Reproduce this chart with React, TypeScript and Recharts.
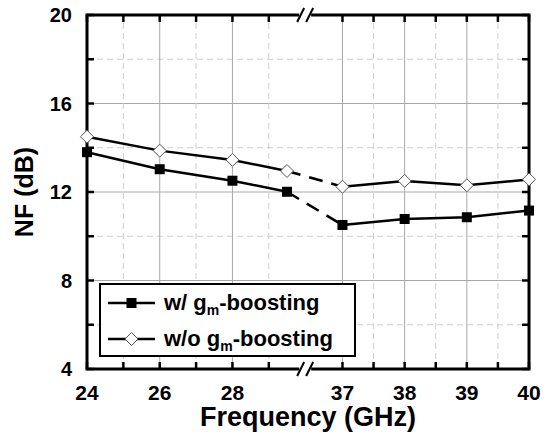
import React from 'react';
import { LineChart, Line, XAxis, YAxis, ReferenceLine } from 'recharts';

// measured noise figure (dB) vs frequency (GHz)
const freqs = [24, 26, 28, 29.5, 37, 38, 39, 40];
const nfWith = [13.8, 13.03, 12.51, 12.01, 10.51, 10.78, 10.86, 11.16];
const nfWithout = [14.5, 13.87, 13.45, 12.95, 12.24, 12.5, 12.3, 12.57];

const majorX = [24, 26, 28, 37, 38, 39, 40];
const minorX = [25, 27, 29, 37.5, 38.5, 39.5];
const majorY = [4, 8, 12, 16, 20];
const minorY = [6, 10, 14, 18];
const Y_MIN = 4;
const Y_MAX = 20;

// broken x axis: 24..30 on the left, 36.4..40 stretched on the right
const BREAK_LO = 30;
const BREAK_HI = 36.4;
const STRETCH = 1.71;
const toPos = (f: number) => (f <= BREAK_LO ? f - 24 : BREAK_LO - 24 + (f - BREAK_HI) * STRETCH);
const breakPos = toPos(BREAK_LO);
const xMax = toPos(40);

const FONT = '"Liberation Sans", Arial, sans-serif';
const CHART_W = 551;
const CHART_H = 435;
const MARGIN = { top: 15, right: 22, bottom: 0, left: 0 };
const Y_AXIS_W = 87;

// split each series into solid part / dashed part across the break
const lastLeft = Math.max(...freqs.filter((f) => f < BREAK_LO));
const firstRight = Math.min(...freqs.filter((f) => f > BREAK_LO));
const rows = freqs.map((f, i) => ({
  pos: toPos(f),
  wL: f <= lastLeft ? nfWith[i] : null,
  wD: f === lastLeft || f === firstRight ? nfWith[i] : null,
  wR: f >= firstRight ? nfWith[i] : null,
  woL: f <= lastLeft ? nfWithout[i] : null,
  woD: f === lastLeft || f === firstRight ? nfWithout[i] : null,
  woR: f >= firstRight ? nfWithout[i] : null,
}));

const xTicks = [...majorX, ...minorX].map(toPos).sort((a, b) => a - b);
const yTicks = [...majorY, ...minorY].sort((a, b) => a - b);

const xLabel = (v: number) => {
  const f = majorX.find((m) => Math.abs(toPos(m) - v) < 1e-6);
  return f === undefined ? '' : String(f);
};
const yLabel = (v: number) => (majorY.includes(v) ? String(v) : '');

const Square = (props: any) => {
  const { cx, cy, index } = props;
  if (cx == null || cy == null || props.value == null) return <g key={`s${index}`} />;
  return <rect key={`s${index}`} x={cx - 5} y={cy - 5} width={10} height={10} fill="#000" />;
};

const Diamond = (props: any) => {
  const { cx, cy, index } = props;
  if (cx == null || cy == null || props.value == null) return <g key={`d${index}`} />;
  const r = 6.5;
  return (
    <polygon
      key={`d${index}`}
      points={`${cx},${cy - r} ${cx + r},${cy} ${cx},${cy + r} ${cx - r},${cy}`}
      fill="#fff"
      stroke="#555"
      strokeWidth={1}
    />
  );
};

// plot frame with inward ticks on all four sides, plus the // break marks
const TICK = 7;
const FrameAndBreak = (props: any) => {
  const { x, y, height } = props.viewBox;
  const left = MARGIN.left + Y_AXIS_W;
  const right = CHART_W - MARGIN.right;
  const top = y;
  const bottom = y + height;
  const w = right - left;
  const px = (p: number) => left + (w * p) / xMax;
  const py = (v: number) => top + (height * (Y_MAX - v)) / (Y_MAX - Y_MIN);
  const slash = (cy: number, k: string) => (
    <g key={k}>
      <rect x={x - 6} y={cy - 3} width={12} height={6} fill="#fff" />
      <line x1={x - 8} y1={cy + 7} x2={x - 1} y2={cy - 7} stroke="#000" strokeWidth={2} />
      <line x1={x + 1} y1={cy + 7} x2={x + 8} y2={cy - 7} stroke="#000" strokeWidth={2} />
    </g>
  );
  return (
    <g>
      <rect x={left} y={top} width={w} height={height} fill="none" stroke="#000" strokeWidth={3} />
      {xTicks.map((p) => (
        <g key={`xt${p}`}>
          <line x1={px(p)} y1={top} x2={px(p)} y2={top + TICK} stroke="#000" strokeWidth={2.5} />
          <line x1={px(p)} y1={bottom} x2={px(p)} y2={bottom - TICK} stroke="#000" strokeWidth={2.5} />
        </g>
      ))}
      {yTicks.map((v) => (
        <g key={`yt${v}`}>
          <line x1={left} y1={py(v)} x2={left + TICK} y2={py(v)} stroke="#000" strokeWidth={2.5} />
          <line x1={right} y1={py(v)} x2={right - TICK} y2={py(v)} stroke="#000" strokeWidth={2.5} />
        </g>
      ))}
      {slash(top, 'top')}
      {slash(bottom, 'bot')}
    </g>
  );
};

const XTitle = (props: any) => {
  const { viewBox } = props;
  return (
    <text
      x={viewBox.x + viewBox.width / 2}
      y={426}
      textAnchor="middle"
      fill="#000"
      fontSize={27}
      fontWeight="bold"
      fontFamily={FONT}
    >
      Frequency (GHz)
    </text>
  );
};

const YTitle = (props: any) => {
  const { viewBox } = props;
  const cy = viewBox.y + viewBox.height / 2;
  return (
    <text
      x={24}
      y={cy}
      transform={`rotate(-90, 24, ${cy})`}
      textAnchor="middle"
      dominantBaseline="central"
      fill="#000"
      fontSize={25}
      fontWeight="bold"
      fontFamily={FONT}
    >
      NF (dB)
    </text>
  );
};

const LegendRow = ({ marker, text }: { marker: 'square' | 'diamond'; text: string }) => (
  <div style={{ display: 'flex', alignItems: 'center', height: 36 }}>
    <svg width={50} height={20} style={{ marginLeft: 7 }}>
      <line x1={0} y1={10} x2={47} y2={10} stroke="#000" strokeWidth={2.5} />
      {marker === 'square' ? (
        <rect x={18.5} y={5} width={10} height={10} fill="#000" />
      ) : (
        <polygon points="23.5,3.5 30,10 23.5,16.5 17,10" fill="#fff" stroke="#555" strokeWidth={1} />
      )}
    </svg>
    <span style={{ marginLeft: 6, fontSize: 22, fontWeight: 'bold', fontFamily: FONT }}>
      {text}
      <span style={{ fontSize: 14, position: 'relative', top: 5 }}>m</span>
      -boosting
    </span>
  </div>
);

export default function App() {
  return (
    <div style={{ position: 'absolute', left: 0, top: 0, width: CHART_W, height: CHART_H, background: '#fff' }}>
      <LineChart width={CHART_W} height={CHART_H} data={rows} margin={MARGIN}>
        <XAxis
          xAxisId="bottom"
          dataKey="pos"
          type="number"
          domain={[0, xMax]}
          ticks={xTicks}
          tickFormatter={xLabel}
          interval={0}
          height={66}
          axisLine={false}
          tickLine={false}
          tickSize={6}
          tickMargin={10}
          tick={{ fill: '#000', fontSize: 21, fontWeight: 'bold', fontFamily: FONT }}
          label={XTitle}
        />
        <YAxis
          yAxisId="left"
          type="number"
          domain={[Y_MIN, Y_MAX]}
          ticks={yTicks}
          tickFormatter={yLabel}
          interval={0}
          width={Y_AXIS_W}
          axisLine={false}
          tickLine={false}
          tickSize={6}
          tickMargin={9}
          tick={{ fill: '#000', fontSize: 20, fontWeight: 'bold', fontFamily: FONT }}
          label={YTitle}
        />

        {majorY.slice(1, -1).map((v) => (
          <ReferenceLine key={`hy${v}`} xAxisId="bottom" yAxisId="left" y={v} stroke="#a8a8a8" strokeWidth={1} />
        ))}
        {minorY.map((v) => (
          <ReferenceLine key={`my${v}`} xAxisId="bottom" yAxisId="left" y={v} stroke="#cfcfcf" strokeWidth={1} strokeDasharray="6 4" />
        ))}
        {majorX.slice(1, -1).map((f) => (
          <ReferenceLine key={`hx${f}`} xAxisId="bottom" yAxisId="left" x={toPos(f)} stroke="#a8a8a8" strokeWidth={1} />
        ))}
        {minorX.map((f) => (
          <ReferenceLine key={`mx${f}`} xAxisId="bottom" yAxisId="left" x={toPos(f)} stroke="#cfcfcf" strokeWidth={1} strokeDasharray="6 4" />
        ))}
        <ReferenceLine xAxisId="bottom" yAxisId="left" x={breakPos} stroke="none" label={FrameAndBreak} />

        <Line xAxisId="bottom" yAxisId="left" dataKey="woD" stroke="#000" strokeWidth={2.5} strokeDasharray="14 9" dot={false} isAnimationActive={false} />
        <Line xAxisId="bottom" yAxisId="left" dataKey="wD" stroke="#000" strokeWidth={2.5} strokeDasharray="14 9" dot={false} isAnimationActive={false} />
        <Line xAxisId="bottom" yAxisId="left" dataKey="woL" stroke="#000" strokeWidth={2.5} dot={Diamond} isAnimationActive={false} />
        <Line xAxisId="bottom" yAxisId="left" dataKey="woR" stroke="#000" strokeWidth={2.5} dot={Diamond} isAnimationActive={false} />
        <Line xAxisId="bottom" yAxisId="left" dataKey="wL" stroke="#000" strokeWidth={2.5} dot={Square} isAnimationActive={false} />
        <Line xAxisId="bottom" yAxisId="left" dataKey="wR" stroke="#000" strokeWidth={2.5} dot={Square} isAnimationActive={false} />
      </LineChart>

      <div
        style={{
          position: 'absolute',
          left: 99,
          top: 283,
          width: 253,
          height: 70,
          border: '2px solid #000',
          background: '#fff',
        }}
      >
        <LegendRow marker="square" text="w/ g" />
        <LegendRow marker="diamond" text="w/o g" />
      </div>
    </div>
  );
}
